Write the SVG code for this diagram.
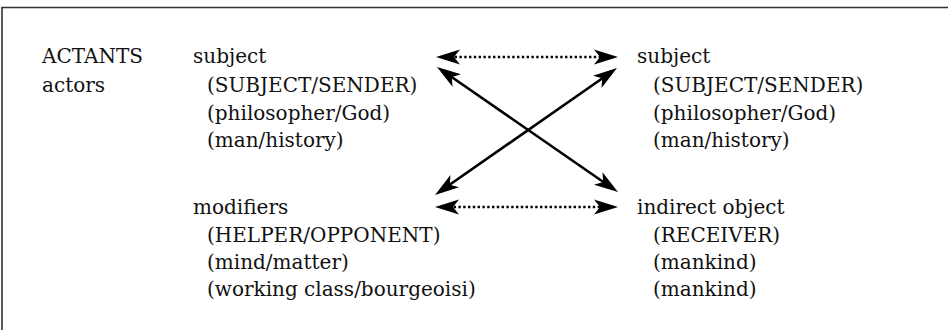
<svg xmlns="http://www.w3.org/2000/svg" width="948" height="330" viewBox="0 0 948 330">
  <style>
    .frame { fill: none; stroke: #333; stroke-width: 1.6; }
    .solid { stroke: #000; stroke-width: 2.6; fill: none; }
    .dot { stroke: #000; stroke-width: 2.6; fill: none; stroke-dasharray: 2.4 2.4; }
    .t { font-family: "DejaVu Serif", serif; font-size: 20px; fill: #111; }
  </style>
  <defs>
    <marker id="head" markerUnits="userSpaceOnUse" markerWidth="26" markerHeight="18" refX="15" refY="8" orient="auto-start-reverse" viewBox="0 0 26 16">
      <path d="M0,0.5 L24,8 L0,15.5 L6,8 Z" fill="#000"/>
    </marker>
  </defs>

  <rect width="948" height="330" fill="#fff"/>
  <!-- open frame: top and left edges -->
  <path class="frame" d="M2,330 L2,7.5 L948,7.5"/>

  <g id="label-actants">
    <text class="t" x="42" y="63">ACTANTS</text>
    <text class="t" x="42" y="92">actors</text>
  </g>

  <g id="node-subject-left">
    <text class="t" x="193" y="63">subject</text>
    <text class="t" x="207" y="92">(SUBJECT/SENDER)</text>
    <text class="t" x="207" y="120">(philosopher/God)</text>
    <text class="t" x="207" y="147">(man/history)</text>
  </g>

  <g id="node-subject-right">
    <text class="t" x="637" y="63">subject</text>
    <text class="t" x="653" y="92">(SUBJECT/SENDER)</text>
    <text class="t" x="653" y="120">(philosopher/God)</text>
    <text class="t" x="653" y="147">(man/history)</text>
  </g>

  <g id="node-modifiers">
    <text class="t" x="193" y="214">modifiers</text>
    <text class="t" x="207" y="242">(HELPER/OPPONENT)</text>
    <text class="t" x="207" y="269">(mind/matter)</text>
    <text class="t" x="207" y="296">(working class/bourgeoisi)</text>
  </g>

  <g id="node-indirect-object">
    <text class="t" x="637" y="214">indirect object</text>
    <text class="t" x="653" y="242">(RECEIVER)</text>
    <text class="t" x="653" y="269">(mankind)</text>
    <text class="t" x="653" y="296">(mankind)</text>
  </g>

  <g id="connectors">
    <line class="dot" x1="445" y1="57" x2="609" y2="57" marker-start="url(#head)" marker-end="url(#head)"/>
    <line class="dot" x1="444" y1="207" x2="609" y2="207" marker-start="url(#head)" marker-end="url(#head)"/>
    <line class="solid" x1="444.4" y1="72" x2="610.6" y2="187" marker-start="url(#head)" marker-end="url(#head)"/>
    <line class="solid" x1="609.6" y1="73.2" x2="442.4" y2="189.8" marker-start="url(#head)" marker-end="url(#head)"/>
  </g>
</svg>
